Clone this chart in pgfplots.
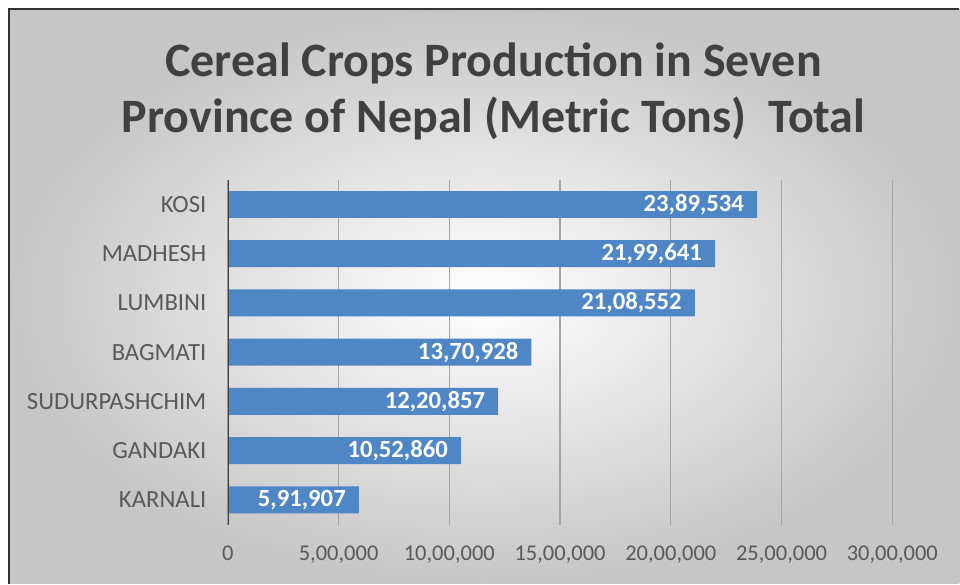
\documentclass[border=0pt]{standalone}
\usepackage{fontspec}
\setmainfont{Carlito}
\usepackage{pgfplots}
\usepackage{pgfplotstable}
\pgfplotsset{compat=1.18}
\definecolor{barblue}{RGB}{79,134,198}
\definecolor{txtgray}{RGB}{89,89,89}
\definecolor{titlegray}{RGB}{64,64,64}
\definecolor{gridgray}{RGB}{165,165,165}
\definecolor{bgouter}{RGB}{198,198,198}
\pgfplotstableread{
x y label
591907 0 5,91,907
1052860 1 10,52,860
1220857 2 12,20,857
1370928 3 13,70,928
2108552 4 21,08,552
2199641 5 21,99,641
2389534 6 23,89,534
}\cropdata
\begin{document}
\begin{tikzpicture}[x=1pt,y=1pt]
\fill[white] (0,0) rectangle (960,584);
\shade[inner color=white, outer color=bgouter] (9,0) rectangle (960,575);
\draw[black!80, line width=1.5pt] (9,0) -- (9,575) -- (960,575);
\node[anchor=base, text=titlegray, font=\bfseries\fontsize{48}{56}\selectfont] at (494,507) {Cereal Crops Production in Seven};
\node[anchor=base, text=titlegray, font=\bfseries\fontsize{48}{56}\selectfont] at (494,451) {Province of Nepal (Metric Tons)\ \ Total};
\begin{axis}[at={(228pt,59pt)}, anchor=south west, scale only axis,
  width=665pt, height=345pt,
  xmin=0, xmax=3000000, ymin=-0.5, ymax=6.5,
  xbar, bar width=27pt,
  axis line style={draw=none},
  scaled x ticks=false,
  xtick={0,500000,1000000,1500000,2000000,2500000,3000000},
  xticklabels={0,{5,00,000},{10,00,000},{15,00,000},{20,00,000},{25,00,000},{30,00,000}},
  ytick={0,1,2,3,4,5,6},
  yticklabels={KARNALI,GANDAKI,SUDURPASHCHIM,BAGMATI,LUMBINI,MADHESH,KOSI},
  major tick length=0pt,
  xmajorgrids, ymajorgrids=false,
  grid style={gridgray, line width=1.2pt},
  xticklabel style={font=\fontsize{22.5}{26}\selectfont, text=txtgray, yshift=-18pt},
  yticklabel style={font=\fontsize{24.7}{28}\selectfont, text=txtgray, xshift=-18pt},
  every node near coord/.append style={font=\bfseries\fontsize{24.7}{28}\selectfont, text=white, anchor=east, inner sep=0pt, xshift=-13pt},
]
\addplot[fill=barblue, draw=none, nodes near coords, point meta=explicit symbolic]
  table[x=x, y=y, meta=label] {\cropdata};
\draw[line width=2.5pt, color=black!75] (axis cs:0,-0.5) -- (axis cs:0,6.5);
\end{axis}
\end{tikzpicture}
\end{document}
